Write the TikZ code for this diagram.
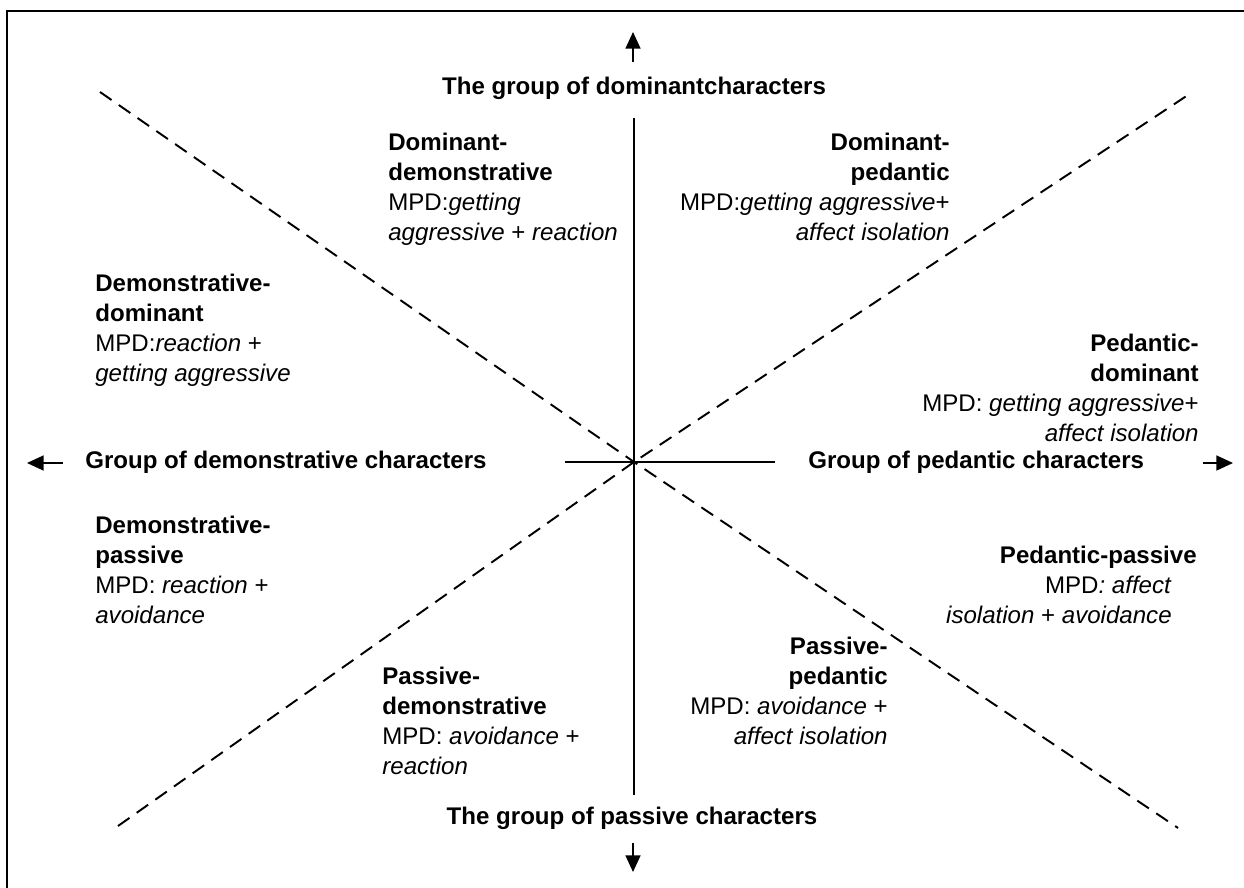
\documentclass[tikz,border=0pt]{standalone}
\usepackage{fontspec}
\setmainfont{Liberation Sans}
\usetikzlibrary{arrows.meta}
\begin{document}
\begin{tikzpicture}[x=0.02cm, y=-0.02cm,
  lbl/.style={inner sep=0pt, font=\fontsize{13.7}{17}\selectfont},
  grp/.style={inner sep=0pt, font=\fontsize{13.7}{17}\selectfont\bfseries},
  axis/.style={line width=1.1pt},
  diag/.style={line width=1.1pt, dash pattern=on 8pt off 5pt},
  tip/.style={line width=1.1pt, -{Triangle[length=9.5pt,width=8.5pt]}}]
\clip (0,0) rectangle (1244,888);
\draw [line width=1.3pt] (7,11) rectangle (1270,910);
% axes
\coordinate (c) at (634,462);
\coordinate (n) at (634,118);
\coordinate (s) at (634,795);
\coordinate (w) at (565,462);
\coordinate (e) at (775,462);
\draw [axis] (n) -- (s);
\draw [axis] (w) -- (e);
% diagonals
\coordinate (nw) at (100,92);
\coordinate (se) at (1178,828);
\coordinate (ne) at (1188,95);
\coordinate (sw) at (118,826);
\draw [diag] (nw) -- (c) -- (se);
\draw [diag] (sw) -- (c) -- (ne);
% arrows
\coordinate (a1) at (633,62);
\coordinate (a2) at (633,32);
\coordinate (b1) at (633,843);
\coordinate (b2) at (633,872);
\coordinate (l1) at (63,463);
\coordinate (l2) at (27,463);
\coordinate (r1) at (1203,463);
\coordinate (r2) at (1233,463);
\draw [tip] (a1) -- (a2);
\draw [tip] (b1) -- (b2);
\draw [tip] (l1) -- (l2);
\draw [tip] (r1) -- (r2);
% group labels
\node [grp] (top) at (634,88) {The group of dominantcharacters};
\node [grp] (bot) at (632,818) {The group of passive characters};
\node [grp, anchor=west] (left) at (85,462) {Group of demonstrative characters};
\node [grp, anchor=west] (right) at (808,462) {Group of pedantic characters};
% types
\node [lbl, align=left, anchor=north west] (domdem) at (388,133)
  {\textbf{Dominant-}\\\textbf{demonstrative}\\MPD:\textit{getting}\\\textit{aggressive} + \textit{reaction}};
\node [lbl, align=right, anchor=north east] (domped) at (950,133)
  {\textbf{Dominant-}\\\textbf{pedantic}\\MPD:\textit{getting aggressive}+\\\textit{affect isolation}};
\node [lbl, align=left, anchor=north west] (demdom) at (95,274)
  {\textbf{Demonstrative-}\\\textbf{dominant}\\MPD:\textit{reaction} +\\\textit{getting aggressive}};
\node [lbl, align=right, anchor=north east] (peddom) at (1199,334)
  {\textbf{Pedantic-}\\\textbf{dominant}\\MPD: \textit{getting aggressive}+\\\textit{affect isolation}};
\node [lbl, align=left, anchor=north west] (dempas) at (95,516)
  {\textbf{Demonstrative-}\\\textbf{passive}\\MPD: \textit{reaction} +\\\textit{avoidance}};
\node [lbl, anchor=north east] (pedpas) at (1197,546) {\textbf{Pedantic-passive}};
\node [lbl, align=right, anchor=north east] (pedpasmpd) at (1172,576)
  {MPD\textit{: affect}\\\textit{isolation} + \textit{avoidance}};
\node [lbl, align=left, anchor=north west] (pasdem) at (382,667)
  {\textbf{Passive-}\\\textbf{demonstrative}\\MPD: \textit{avoidance} +\\\textit{reaction}};
\node [lbl, align=right, anchor=north east] (pasped) at (888,637)
  {\textbf{Passive-}\\\textbf{pedantic}\\MPD: \textit{avoidance} +\\\textit{affect isolation}};
\end{tikzpicture}
\end{document}
